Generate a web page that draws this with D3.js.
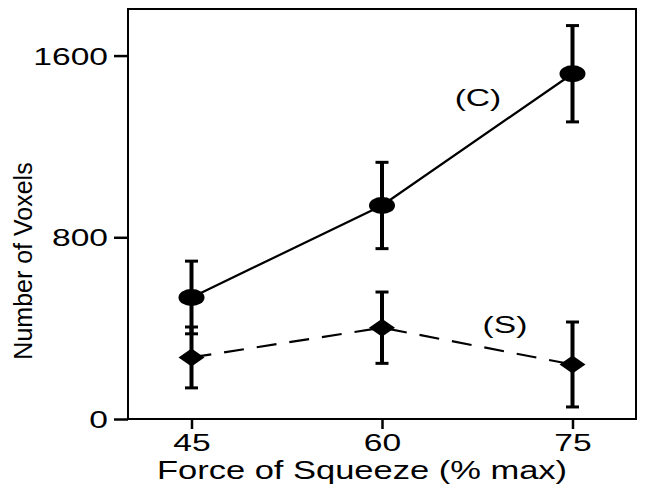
<!DOCTYPE html>
<html>
<head>
<meta charset="utf-8">
<script src="https://cdn.jsdelivr.net/npm/d3@7"></script>
<style>
	body { margin: 0; background: #fff; }
	text { font-family: "Liberation Sans", Arial, sans-serif; fill: #000; }
</style>
</head>
<body>
<svg id="chart" width="646" height="493"></svg>
<script>
// Data
const forceLevels = [45, 60, 75];
const yTicks = [0, 800, 1600];
const contraMean = [535, 940, 1520];
const contraErr = [160, 190, 212];
const samesideMean = [271, 402, 240];
const samesideErr = [134, 157, 187];

// Text in the figure is stretched sideways
const SX = 1.4;

const svg = d3.select("#chart");

// Plot area
const plot = { left: 128, right: 636, top: 9, bottom: 419 };

const x = d3.scaleLinear()
	.domain([40, 80])
	.range([plot.left, plot.right]);

const y = d3.scaleLinear()
	.domain([0, 1805])
	.range([plot.bottom, plot.top]);

svg.append("rect")
	.attr("width", 646)
	.attr("height", 493)
	.attr("fill", "#fff");

// Axes
const yAxis = svg.append("g")
	.attr("transform", "translate(" + plot.left + ",0)")
	.call(d3.axisLeft(y).tickValues(yTicks).tickSize(14).tickFormat(d3.format("d")));
yAxis.select(".domain").remove();
yAxis.selectAll("line")
	.attr("stroke", "#000")
	.attr("stroke-width", 2.5);
yAxis.selectAll("text")
	.attr("x", -20 / SX)
	.attr("dy", "0.36em")
	.attr("transform", "scale(" + SX + ",1)")
	.style("font-size", "24px")
	.style("font-family", "'Liberation Sans', Arial, sans-serif")
	.style("fill", "#000");

const xAxis = svg.append("g")
	.attr("transform", "translate(0," + plot.bottom + ")")
	.call(d3.axisBottom(x).tickValues(forceLevels).tickSize(10));
xAxis.select(".domain").remove();
xAxis.selectAll("line")
	.attr("stroke", "#000")
	.attr("stroke-width", 2.5);
xAxis.selectAll("text")
	.attr("y", 32)
	.attr("dy", 0)
	.attr("transform", "scale(" + SX + ",1)")
	.style("font-size", "24px")
	.style("font-family", "'Liberation Sans', Arial, sans-serif")
	.style("fill", "#000");

// Frame
svg.append("rect")
	.attr("x", plot.left)
	.attr("y", plot.top)
	.attr("width", plot.right - plot.left)
	.attr("height", plot.bottom - plot.top)
	.attr("fill", "none")
	.attr("stroke", "#000")
	.attr("stroke-width", 2);

// Axis labels
svg.append("text")
	.attr("transform", "translate(362,479) scale(1.38,1)")
	.attr("text-anchor", "middle")
	.style("font-size", "25px")
	.text("Force of Squeeze (% max)");

svg.append("text")
	.attr("transform", "translate(32,261) rotate(-90)")
	.attr("text-anchor", "middle")
	.style("font-size", "25px")
	.text("Number of Voxels");

// Build series
function series(means, errs) {
	return forceLevels.map((f, i) => ({ force: f, mean: means[i], err: errs[i] }));
}
const contra = series(contraMean, contraErr);
const sameside = series(samesideMean, samesideErr);

const line = d3.line()
	.x(d => x(d.force))
	.y(d => y(d.mean));

svg.append("path")
	.datum(contra)
	.attr("d", line)
	.attr("fill", "none")
	.attr("stroke", "#000")
	.attr("stroke-width", 2.2);

svg.append("path")
	.datum(sameside)
	.attr("d", line)
	.attr("fill", "none")
	.attr("stroke", "#000")
	.attr("stroke-width", 2.2)
	.attr("stroke-dasharray", "20,13");

// Error bars
function drawErrors(data) {
	const g = svg.append("g");
	g.selectAll()
		.data(data)
		.join("line")
			.attr("x1", d => x(d.force))
			.attr("x2", d => x(d.force))
			.attr("y1", d => y(d.mean - d.err))
			.attr("y2", d => y(d.mean + d.err))
			.attr("stroke", "#000")
			.attr("stroke-width", 4);
	for (const end of [-1, 1]) {
		g.selectAll()
			.data(data)
			.join("line")
				.attr("x1", d => x(d.force) - 6.5)
				.attr("x2", d => x(d.force) + 6.5)
				.attr("y1", d => y(d.mean + end * d.err))
				.attr("y2", d => y(d.mean + end * d.err))
				.attr("stroke", "#000")
				.attr("stroke-width", 3);
	}
}
drawErrors(contra);
drawErrors(sameside);

// Markers
svg.selectAll()
	.data(contra)
	.join("ellipse")
		.attr("cx", d => x(d.force))
		.attr("cy", d => y(d.mean))
		.attr("rx", 13)
		.attr("ry", 8.5)
		.attr("fill", "#000");

svg.selectAll()
	.data(sameside)
	.join("path")
		.attr("d", d => {
			const cx = x(d.force), cy = y(d.mean);
			return "M" + (cx - 13) + "," + cy + "L" + cx + "," + (cy - 9) +
				"L" + (cx + 13) + "," + cy + "L" + cx + "," + (cy + 9) + "Z";
		})
		.attr("fill", "#000");

// Series labels
svg.append("text")
	.attr("transform", "translate(478,106) scale(" + SX + ",1)")
	.attr("text-anchor", "middle")
	.style("font-size", "24px")
	.text("(C)");

svg.append("text")
	.attr("transform", "translate(505,333) scale(" + SX + ",1)")
	.attr("text-anchor", "middle")
	.style("font-size", "24px")
	.text("(S)");
</script>
</body>
</html>
